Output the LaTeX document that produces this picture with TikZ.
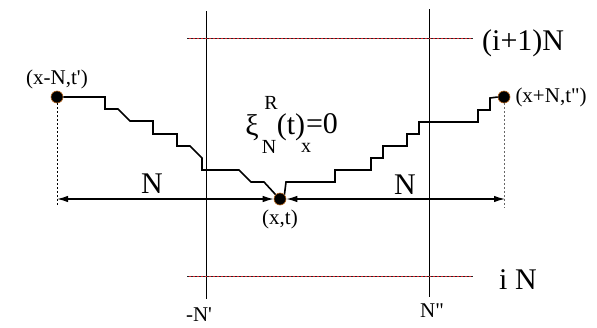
\documentclass[tikz,border=0pt]{standalone}
\usepackage{fontspec}
\setmainfont{Liberation Serif}
\usetikzlibrary{arrows.meta, positioning, calc}
\definecolor{dotrim}{HTML}{B5651D}
\definecolor{levelred}{HTML}{E0202A}
\tikzset{
  site/.style={circle, fill=black, draw=dotrim, line width=0.6pt,
               minimum size=12pt, inner sep=0pt},
  walk/.style={black, line width=1.6pt, line join=miter},
  span/.style={{Latex[length=11pt,width=6.5pt]}-{Latex[length=11pt,width=6.5pt]},
               line width=1.3pt},
  level/.style={line width=0.8pt},
  guide/.style={dashed, dash pattern=on 2pt off 2pt, line width=0.6pt},
  biglab/.style={font=\fontsize{30}{32}\selectfont, inner sep=0pt},
  midlab/.style={font=\fontsize{20}{22}\selectfont, inner sep=0pt},
  smalllab/.style={font=\fontsize{21}{23}\selectfont, inner sep=0pt}
}
\begin{document}
\begin{tikzpicture}[x=1pt, y=-1pt]
  \useasboundingbox (0,0) rectangle (597,327);
  %% block boundaries
  \coordinate (lefttop) at (206,11);
  \coordinate (leftbot) at (206,299);
  \coordinate (righttop) at (429,9);
  \coordinate (rightbot) at (429,297);
  \draw[line width=0.7pt] (lefttop) -- (leftbot);
  \draw[line width=0.7pt] (righttop) -- (rightbot);
  %% levels (i+1)N and iN
  \coordinate (upA) at (187,38);  \coordinate (upB) at (473,38);
  \coordinate (loA) at (187,276); \coordinate (loB) at (473,276);
  \foreach \a/\b in {upA/upB, loA/loB} {
    \draw[levelred, level] (\a) -- (\b);
    \draw[guide, black!85] (\a) -- (\b);
  }
  \node[biglab, anchor=west] (upper) at (482,43) {(i+1)N};
  \node[biglab, anchor=west] (lower) at (499,280) {i N};
  \node[smalllab] (nprime) at (199,315) {-N\textquotesingle};
  \node[smalllab] (ndprime) at (432,311) {N\textquotedbl};
  %% end points of the walk
  \node[site] (start) at (57,97) {};
  \node[site] (origin) at (280,199) {};
  \node[site] (finish) at (504,97) {};
  \node[smalllab, above=2pt of start] (startlab) {(x-N,t\textquotesingle)};
  \node[smalllab, right=5pt of finish] (finishlab) {(x+N,t\textquotedbl)};
  \node[smalllab, below=4pt of origin] (originlab) {(x,t)};
  %% left staircase
  \draw[walk] (start.east) -- (105,97) -- (105,109) -- (118,109)
    -- (130,121) -- (153,121) -- (153,134) -- (177,134) -- (177,146)
    -- (190,146) -- (202,158) -- (202,170) -- (239,170) -- (251,182)
    -- (264,182) -- (origin.north west);
  %% right staircase
  \draw[walk] (origin.north east) -- (286,182) -- (335,182) -- (335,170)
    -- (371,170) -- (371,158) -- (383,158) -- (383,146) -- (407,146)
    -- (407,134) -- (419,134) -- (419,122) -- (478,122) -- (478,110)
    -- (490,110) -- (490,98) -- (finish.west);
  %% distance markers
  \coordinate (leftend) at (57,199);
  \coordinate (rightend) at (505,199);
  \draw[guide] (start.south) -- (57,207);
  \draw[guide, black!60] (finish.south) -- (504,208);
  \draw[span] (leftend) -- (origin.west);
  \draw[span] (origin.east) -- (rightend);
  \node[biglab] (nleft) at (152,184) {N};
  \node[biglab] (nright) at (405,185) {N};
  %% label of the height function
  \node[biglab] (xi) at (252,128) {ξ};
  \node[midlab] (sup) at (271,103) {R};
  \node[midlab] (sub) at (269,147) {N};
  \node[biglab] (targ) at (291,127) {(t)};
  \node[midlab] (subx) at (306,148) {x};
  \node[biglab] (zero) at (322,124) {=0};
\end{tikzpicture}
\end{document}
